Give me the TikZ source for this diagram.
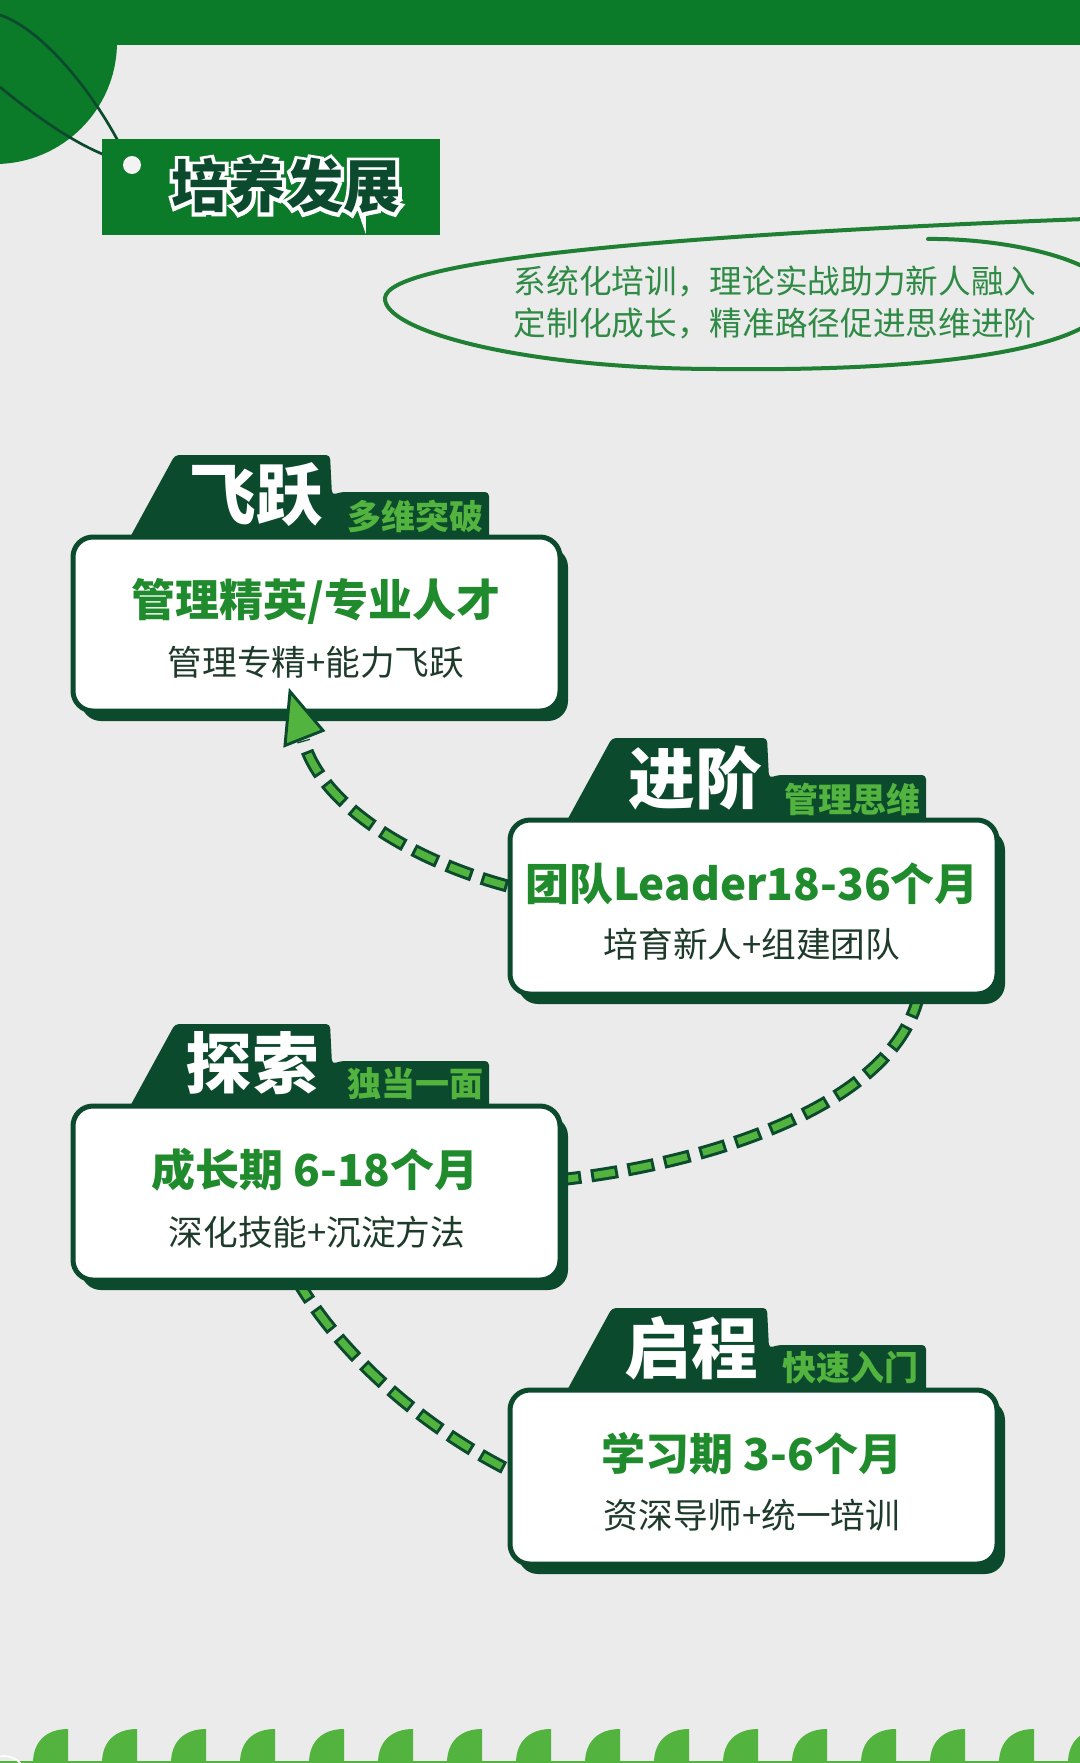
\documentclass[tikz,border=0pt]{standalone}
\usepackage{fontspec}
\setmainfont{Noto Sans CJK SC}
\newfontfamily\outlfont{Noto Sans CJK SC}[BoldFeatures={FakeBold=12}]
\usetikzlibrary{calc,shadows}
\pgfdeclarelayer{back}
\pgfdeclarelayer{conn}
\pgfsetlayers{back,conn,main}
\definecolor{bgc}{HTML}{EBEBEB}
\definecolor{topg}{HTML}{0B7A29}
\definecolor{dkg}{HTML}{0C4A2E}
\definecolor{ltg}{HTML}{52B33F}
\definecolor{mng}{HTML}{1F8B2C}
\definecolor{txd}{HTML}{1E3A2B}
\definecolor{elg}{HTML}{1F7F32}
\definecolor{elt}{HTML}{2F8A45}
\begin{document}
\begin{tikzpicture}[x=0.75pt,y=-0.75pt,
  card/.style={draw=dkg,line width=3.75pt,fill=white,rounded corners=15pt,
    minimum width=365.25pt,minimum height=130.5pt,inner sep=0pt,
    drop shadow={shadow xshift=6pt,shadow yshift=-7.5pt,fill=dkg,opacity=1}},
  ttl/.style={text=white,font=\fontsize{50}{50}\selectfont\bfseries,inner sep=0pt},
  subttl/.style={text=ltg,font=\fontsize{25.5}{26}\selectfont\bfseries,inner sep=0pt},
  maint/.style={text=mng,font=\fontsize{33}{33}\selectfont\bfseries,inner sep=0pt},
  desct/.style={text=txd,font=\fontsize{26}{26}\selectfont,inner sep=0pt},
  bigttl/.style={font=\fontsize{43}{43}\selectfont\bfseries,inner sep=0pt},
  bigout/.style={font=\outlfont\bfseries\fontsize{43}{43}\selectfont,inner sep=0pt},
  elltext/.style={text=elt,font=\fontsize{24.5}{24.5}\selectfont,inner sep=0pt},
  tab/.style={fill=dkg,rounded corners=3pt},
  dashout/.style={draw=dkg,line width=9.75pt,dash pattern=on 20.25pt off 7.5pt},
  dashin/.style={draw=ltg,line width=5.25pt,dash pattern=on 15.75pt off 12pt,dash phase=25.5pt},
]
\useasboundingbox (0,0) rectangle (1080,1763);
\clip (0,0) rectangle (1080,1763);
\begin{pgfonlayer}{back}
\fill[bgc] (0,0) rectangle (1080,1763);
\end{pgfonlayer}

% top bar and circle
\fill[topg] (0,0) rectangle (1080,45);
\fill[topg] (-5,42) circle[radius=122];

% string
\draw[dkg,line width=2pt] (0,15) .. controls (45,30) and (100,100) .. (128,161);
\draw[dkg,line width=2pt] (0,87) .. controls (40,120) and (90,155) .. (128,162);

% title tag
\fill[topg] (102,139) rectangle (440,235);
\fill[bgc!60!white] (132,165) circle[radius=9];
\node[bigout,text=white] (titleo) at (286,186) {培养发展};
\node[bigttl,text=dkg] (title) at (286,186) {培养发展};

% ellipse
\draw[elg,line width=3pt,line cap=round] (928,239) .. controls (1010,238) and (1110,262) .. (1110,295)
  .. controls (1110,340) and (980,372) .. (719,369)
  .. controls (520,369) and (383,330) .. (385,298)
  .. controls (388,262) and (640,236) .. (1085,219);
\node[elltext] (e1) at (775,281) {系统化培训，理论实战助力新人融入};
\node[elltext] (e2) at (775,323) {定制化成长，精准路径促进思维进阶};

% card 1
\begin{scope}[shift={(73,537)}]
\fill[tab] (55,4) -- (102,-82) -- (257,-82) -- (259,-42) -- (268,-45) -- (416,-45) -- (416,4) -- cycle;
\node[card] (c1) at (243.5,87) {};
\node[ttl] (t1) at (183,-42) {飞跃};
\node[subttl] (s1) at (342,-21) {多维突破};
\node[maint] (m1) at (243,64) {管理精英/专业人才};
\node[desct] (d1) at (243,125) {管理专精+能力飞跃};
\end{scope}

% card 2
\begin{scope}[shift={(510,820)}]
\fill[tab] (55,4) -- (102,-82) -- (257,-82) -- (259,-42) -- (268,-45) -- (416,-45) -- (416,4) -- cycle;
\node[card] (c2) at (243.5,87) {};
\node[ttl] (t2) at (185,-42) {进阶};
\node[subttl] (s2) at (342,-21) {管理思维};
\node[maint] (m2) at (242,64) {团队Leader18-36个月};
\node[desct] (d2) at (242,124) {培育新人+组建团队};
\end{scope}

% card 3
\begin{scope}[shift={(73,1106)}]
\fill[tab] (55,4) -- (102,-82) -- (257,-82) -- (259,-42) -- (268,-45) -- (416,-45) -- (416,4) -- cycle;
\node[card] (c3) at (243.5,87) {};
\node[ttl] (t3) at (179,-43) {探索};
\node[subttl] (s3) at (342,-22) {独当一面};
\node[maint] (m3) at (242,64) {成长期 6-18个月};
\node[desct] (d3) at (244,126) {深化技能+沉淀方法};
\end{scope}

% card 4
\begin{scope}[shift={(510,1390)}]
\fill[tab] (55,4) -- (102,-82) -- (257,-82) -- (259,-42) -- (268,-45) -- (416,-45) -- (416,4) -- cycle;
\node[card] (c4) at (243.5,87) {};
\node[ttl] (t4) at (181,-42) {启程};
\node[subttl] (s4) at (340,-22) {快速入门};
\node[maint] (m4) at (242,64) {学习期 3-6个月};
\node[desct] (d4) at (242,125) {资深导师+统一培训};
\end{scope}

% connectors
\coordinate (p1s) at ($(c2.west)+(0,-21)$);
\coordinate (p1e) at ($(c1.south)+(-13,27)$);
\coordinate (p2s) at ($(c2.south east)+(-80,-5)$);
\coordinate (p2e) at ($(c3.east)+(-5,-13)$);
\coordinate (p3s) at ($(c3.south)+(-21,-5)$);
\coordinate (p3e) at ($(c4.west)+(5,-5)$);
\begin{pgfonlayer}{conn}
\draw[dashout] (p1s) .. controls +(-100,-27) and +(17,63) .. (p1e);
\draw[dashin]  (p1s) .. controls +(-100,-27) and +(17,63) .. (p1e);
\draw[dashout] (p2s) .. controls +(-22,115) and +(145,-15) .. (p2e);
\draw[dashin]  (p2s) .. controls +(-22,115) and +(145,-15) .. (p2e);
\draw[dashout] (p3s) .. controls +(46,80) and +(-85,-42) .. (p3e);
\draw[dashin]  (p3s) .. controls +(46,80) and +(-85,-42) .. (p3e);
\end{pgfonlayer}
% arrow head
\draw[dkg,fill=ltg,line width=2.2pt,line join=miter]
  ($(c1.south)+(-26.5,-22)$) -- ($(c1.south)+(-31.5,32)$) -- ($(c1.south)+(6.5,17)$) -- cycle;

% bottom decoration
\foreach \i in {0,...,15}
  \fill[ltg] ({33+69*\i},1763) .. controls ({33+69*\i},1742) and ({46+69*\i},1729) .. ({68+69*\i},1729) -- ({68+69*\i},1763) -- cycle;
\fill[ltg] (0,1761) rectangle (1080,1763);
\draw[white,line width=1.2pt] (4,1778) circle[radius=22];
\end{tikzpicture}
\end{document}
